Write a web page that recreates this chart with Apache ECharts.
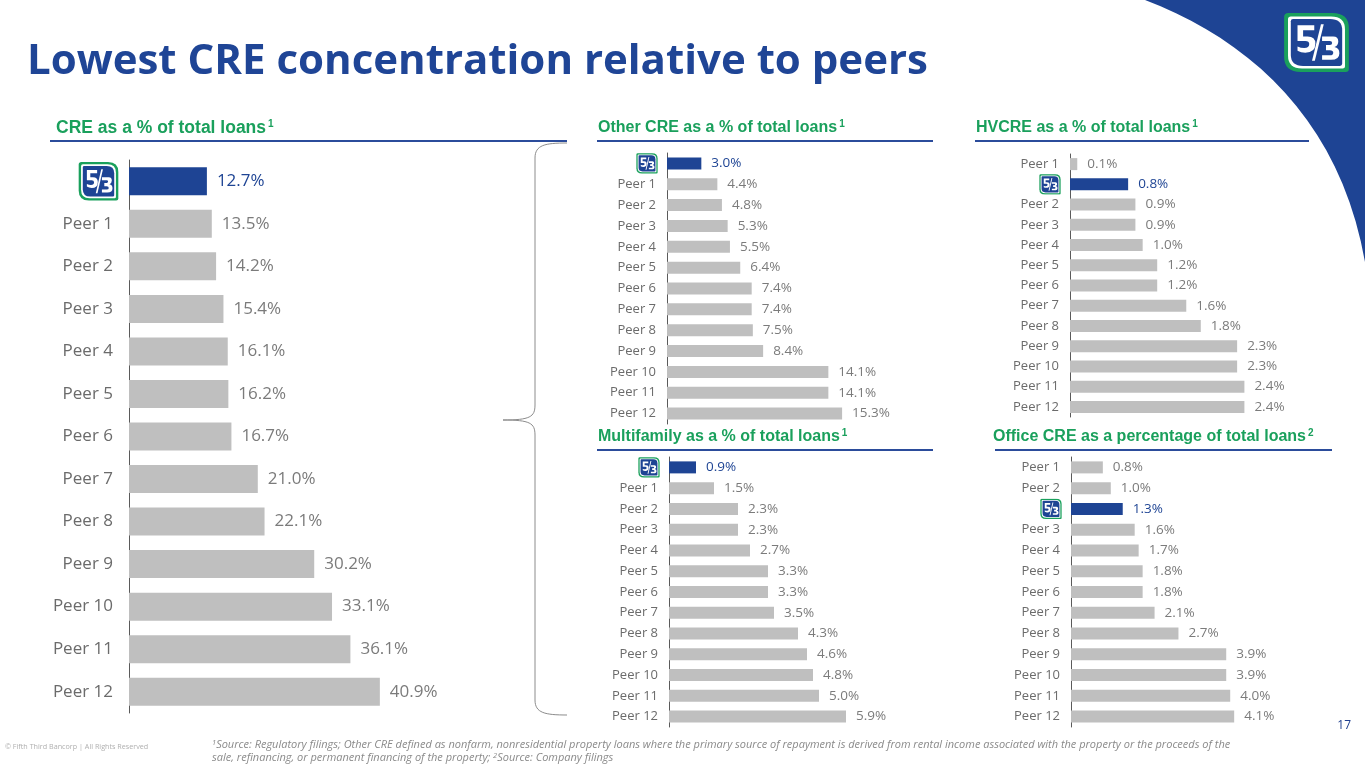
<!DOCTYPE html>
<html>
<head>
<meta charset="utf-8">
<script src="https://cdn.jsdelivr.net/npm/echarts@6/dist/echarts.min.js"></script>
<style>
  html, body { margin: 0; padding: 0; background: #fff; }
  #main { width: 1365px; height: 768px; }
</style>
</head>
<body>
<div id="main"></div>
<script>
// ---- data ----
var HL = "Fifth Third";
var creCats = ["Fifth Third", "Peer 1", "Peer 2", "Peer 3", "Peer 4", "Peer 5", "Peer 6", "Peer 7", "Peer 8", "Peer 9", "Peer 10", "Peer 11", "Peer 12"];
var creVals = [12.7, 13.5, 14.2, 15.4, 16.1, 16.2, 16.7, 21.0, 22.1, 30.2, 33.1, 36.1, 40.9];

var otherCats = ["Fifth Third", "Peer 1", "Peer 2", "Peer 3", "Peer 4", "Peer 5", "Peer 6", "Peer 7", "Peer 8", "Peer 9", "Peer 10", "Peer 11", "Peer 12"];
var otherVals = [3.0, 4.4, 4.8, 5.3, 5.5, 6.4, 7.4, 7.4, 7.5, 8.4, 14.1, 14.1, 15.3];

var hvCats = ["Peer 1", "Fifth Third", "Peer 2", "Peer 3", "Peer 4", "Peer 5", "Peer 6", "Peer 7", "Peer 8", "Peer 9", "Peer 10", "Peer 11", "Peer 12"];
var hvVals = [0.1, 0.8, 0.9, 0.9, 1.0, 1.2, 1.2, 1.6, 1.8, 2.3, 2.3, 2.4, 2.4];

var multiCats = ["Fifth Third", "Peer 1", "Peer 2", "Peer 3", "Peer 4", "Peer 5", "Peer 6", "Peer 7", "Peer 8", "Peer 9", "Peer 10", "Peer 11", "Peer 12"];
var multiVals = [0.9, 1.5, 2.3, 2.3, 2.7, 3.3, 3.3, 3.5, 4.3, 4.6, 4.8, 5.0, 5.9];

var officeCats = ["Peer 1", "Peer 2", "Fifth Third", "Peer 3", "Peer 4", "Peer 5", "Peer 6", "Peer 7", "Peer 8", "Peer 9", "Peer 10", "Peer 11", "Peer 12"];
var officeVals = [0.8, 1.0, 1.3, 1.6, 1.7, 1.8, 1.8, 2.1, 2.7, 3.9, 3.9, 4.0, 4.1];

// ---- style ----
var BLUE = "#1e4494";
var GREEN = "#1aa05c";
var GRAY = "#bfbfbf";
var TXT = "#6b6b6b";
var VAL = "#7b7b7b";

// bank logo as inline svg
function logoUrl() {
    var svg = '<svg xmlns="http://www.w3.org/2000/svg" width="60" height="60" viewBox="0 0 60 60">' +
        '<path d="M5 1H44Q59 1 59 16V56Q59 59 56 59H16Q1 59 1 44V5Q1 1 5 1Z" fill="' + GREEN + '"/>' +
        '<path d="M7 4.5H43Q55.5 4.5 55.5 17V53.5Q55.5 55.5 53.5 55.5H17Q4.5 55.5 4.5 43V7Q4.5 4.5 7 4.5Z" fill="#fff"/>' +
        '<path d="M9 7H42Q53 7 53 18V51Q53 53 51 53H18Q7 53 7 42V9Q7 7 9 7Z" fill="' + BLUE + '"/>' +
        '<path d="M13 13H28V18H18V24H22Q29 24 29 31Q29 40 20 40Q16 40 13 38V34Q16 35.5 19 35.5Q23.5 35.5 23.5 31.5Q23.5 28.5 20 28.5H13Z" fill="#fff"/>' +
        '<path d="M34 12H36.5L28.5 48H26Z" fill="#fff"/>' +
        '<path d="M35 24H45Q49.5 24 49.5 29Q49.5 33 46 34.5Q50.5 35.5 50.5 40.5Q50.5 47 43 47H35V42.5H42Q45 42.5 45 40Q45 37.5 42 37.5H38.5V32.5H42Q44 32.5 44 30.5Q44 28.5 42 28.5H35Z" fill="#fff"/>' +
        '</svg>';
    return "data:image/svg+xml;charset=utf-8," + encodeURIComponent(svg);
}
var LOGO = logoUrl();

var panels = [
    { cats: creCats, vals: creVals, left: 129, top: 160, height: 553, width: 276, max: 45, barW: 28, fs: 17, vfs: 17, logo: 41, gap: 6, margin: 10, dist: 10 },
    { cats: otherCats, vals: otherVals, left: 667, top: 153, height: 271, width: 206, max: 18, barW: 12, fs: 13, vfs: 13.5, logo: 22, gap: 2, margin: 9, dist: 10 },
    { cats: hvCats, vals: hvVals, left: 1070, top: 154, height: 263, width: 218, max: 3, barW: 12, fs: 13, vfs: 13.5, logo: 22, gap: 2, margin: 9, dist: 10 },
    { cats: multiCats, vals: multiVals, left: 669, top: 457, height: 270, width: 210, max: 7, barW: 12, fs: 13, vfs: 13.5, logo: 22, gap: 2, margin: 9, dist: 10 },
    { cats: officeCats, vals: officeVals, left: 1071, top: 457, height: 270, width: 199, max: 5, barW: 12, fs: 13, vfs: 13.5, logo: 22, gap: 2, margin: 9, dist: 10 }
];

var grids = [], xAxes = [], yAxes = [], series = [];
panels.forEach(function (p, i) {
    grids.push({ left: p.left, top: p.top, width: p.width, height: p.height, containLabel: false });
    xAxes.push({ type: "value", gridIndex: i, min: 0, max: p.max, show: false });
    yAxes.push({
        type: "category", gridIndex: i, data: p.cats, inverse: true,
        axisLine: { show: true, lineStyle: { color: "#5a5a5a", width: 1 } },
        axisTick: { show: false },
        splitLine: { show: false },
        axisLabel: {
            margin: p.margin, color: TXT, fontSize: p.fs, fontFamily: "Open Sans",
            formatter: function (v) { return v === HL ? "{logo|}" : "{t|" + v + "}{gap|}"; },
            rich: {
                t: { color: TXT, fontSize: p.fs, fontFamily: "Open Sans" },
                logo: { width: p.logo, height: p.logo - 1, backgroundColor: { image: LOGO } },
                gap: { width: p.gap }
            }
        }
    });
    series.push({
        type: "bar", xAxisIndex: i, yAxisIndex: i, barWidth: p.barW,
        itemStyle: { color: GRAY },
        label: {
            show: true, position: "right", distance: p.dist, color: VAL,
            fontSize: p.vfs, fontFamily: "Open Sans",
            formatter: function (d) { return d.value.toFixed(1) + "%"; }
        },
        data: p.vals.map(function (v, k) {
            return p.cats[k] === HL ? { value: v, itemStyle: { color: BLUE }, label: { color: BLUE } } : v;
        })
    });
});

function heading(x, y, main, sup, fs) {
    return {
        type: "text", x: x, y: y,
        style: {
            text: "{a|" + main + "}{b|" + sup + "}",
            verticalAlign: "middle",
            rich: {
                a: { fontFamily: "Liberation Sans", fontWeight: "bold", fontSize: fs, fill: GREEN, lineHeight: 20 },
                b: { fontFamily: "Liberation Sans", fontWeight: "bold", fontSize: 10, fill: GREEN, lineHeight: 20, verticalAlign: "top", padding: [1, 0, 0, 2] }
            }
        }
    };
}
function rule(x1, x2, y) {
    return { type: "line", shape: { x1: x1, y1: y, x2: x2, y2: y }, style: { stroke: "#2b4c9b", lineWidth: 2 } };
}
function curve(x1, y1, cx1, cy1, cx2, cy2, x2, y2) {
    return { type: "bezierCurve", shape: { x1: x1, y1: y1, cpx1: cx1, cpy1: cy1, cpx2: cx2, cpy2: cy2, x2: x2, y2: y2 }, style: { fill: null, stroke: "#8c8c8c", lineWidth: 1 } };
}
// corner sweep outline, sampled from a cubic
function sweep() {
    var p0 = [1145, 0], p1 = [1250, 40], p2 = [1340, 120], p3 = [1365, 262], pts = [];
    for (var t = 0; t <= 1.0001; t += 0.05) {
        var a = (1 - t) * (1 - t) * (1 - t), b = 3 * (1 - t) * (1 - t) * t, c = 3 * (1 - t) * t * t, d = t * t * t;
        pts.push([a * p0[0] + b * p1[0] + c * p2[0] + d * p3[0], a * p0[1] + b * p1[1] + c * p2[1] + d * p3[1]]);
    }
    pts.push([1365, 0]);
    return pts;
}
var noteRich = {
    t: { fontFamily: "Open Sans", fontStyle: "italic", fontSize: 11, fill: "#8a8a8a", lineHeight: 13 },
    s: { fontFamily: "Open Sans", fontStyle: "italic", fontSize: 7.5, fill: "#8a8a8a", lineHeight: 13, verticalAlign: "top" }
};

var graphics = [
    { type: "polygon", shape: { points: sweep() }, style: { fill: BLUE } },
    { type: "image", style: { image: LOGO, x: 1283, y: 12, width: 67, height: 61 } },
    { type: "text", x: 27, y: 62, style: { text: "Lowest CRE concentration relative to peers", font: "bold 42px 'Open Sans'", fill: "#1f4596", verticalAlign: "middle" } },
    heading(56, 128, "CRE as a % of total loans", "1", 17.5),
    rule(50, 567, 141),
    heading(598, 128, "Other CRE as a % of total loans", "1", 16),
    rule(597, 933, 141),
    heading(976, 128, "HVCRE as a % of total loans", "1", 16),
    rule(975, 1309, 141),
    heading(598, 437, "Multifamily as a % of total loans", "1", 16),
    rule(597, 933, 450),
    heading(993, 437, "Office CRE as a percentage of total loans", "2", 16),
    rule(995, 1332, 450),
    // brace
    curve(567, 143, 545, 143, 535, 145, 535, 158),
    { type: "line", shape: { x1: 535, y1: 158, x2: 535, y2: 405 }, style: { stroke: "#8c8c8c", lineWidth: 1 } },
    curve(535, 405, 535, 417, 530, 420, 503, 420),
    curve(503, 420, 530, 420, 535, 423, 535, 435),
    { type: "line", shape: { x1: 535, y1: 435, x2: 535, y2: 700 }, style: { stroke: "#8c8c8c", lineWidth: 1 } },
    curve(535, 700, 535, 713, 545, 715, 567, 715),
    { type: "text", x: 5, y: 747, style: { text: "© Fifth Third Bancorp | All Rights Reserved", font: "7.2px 'Open Sans'", fill: "#b0b0b0", verticalAlign: "middle" } },
    { type: "text", x: 212, y: 745, style: { text: "{s|1}{t|Source: Regulatory filings; Other CRE defined as nonfarm, nonresidential property loans where the primary source of repayment is derived from rental income associated with the property or the proceeds of the}", rich: noteRich, verticalAlign: "middle" } },
    { type: "text", x: 212, y: 758, style: { text: "{t|sale, refinancing, or permanent financing of the property; }{s|2}{t|Source: Company filings}", rich: noteRich, verticalAlign: "middle" } },
    { type: "text", x: 1351, y: 726, style: { text: "17", font: "12px 'Open Sans'", fill: "#1f3f8f", align: "right", verticalAlign: "middle" } }
];

var dom = document.getElementById("main");
var myChart = echarts.init(dom);
var option = {
    backgroundColor: "#fff",
    animation: false,
    grid: grids,
    xAxis: xAxes,
    yAxis: yAxes,
    series: series,
    graphic: { elements: graphics }
};
myChart.setOption(option, true);
</script>
</body>
</html>
